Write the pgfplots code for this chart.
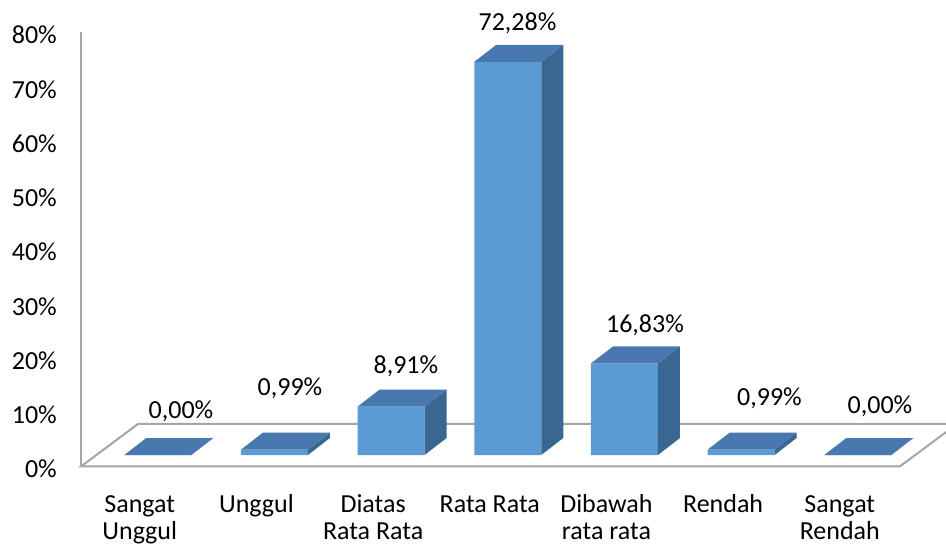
\documentclass[border=0pt]{standalone}
\usepackage{pgfplots}
\pgfplotsset{compat=1.18}
\usepackage{pgfplotstable}
\usepackage{fontspec}
\setmainfont{Carlito}
\definecolor{frontc}{HTML}{5B9BD5}
\definecolor{topc}{HTML}{4878AE}
\definecolor{sidec}{HTML}{3A6792}
\definecolor{linec}{HTML}{A5A5A5}
\newcommand{\lblfont}{\fontsize{26bp}{26.5bp}\selectfont}

% x: category index, v: value (%), lx/ly: label position (bar axis units)
\pgfplotstableread{
x v lx ly
0 0.00 0.199 6.80
1 0.99 1.133 10.85
2 8.91 2.127 15.07
3 72.28 3.083 78.10
4 16.83 4.176 22.52
5 0.99 5.243 9.10
6 0.00 6.190 7.72
}\data

\begin{document}
\begin{tikzpicture}
% value axis (front-left wall line and percentage ticks)
\begin{axis}[
  at={(81bp,80bp)}, anchor=south west, scale only axis,
  width=865bp, height=434bp,
  xmin=0, xmax=1, ymin=0, ymax=80,
  axis x line=none, axis y line*=left,
  y axis line style={draw=linec, line width=2bp, -},
  ytick={0,10,...,80},
  yticklabels={0\%,10\%,20\%,30\%,40\%,50\%,60\%,70\%,80\%},
  ytick style={draw=none},
  yticklabel style={font=\lblfont, anchor=east, inner sep=0pt, xshift=-24bp, yshift=-3bp},
]
\addplot[draw=none] coordinates {(0,0) (1,80)};
\end{axis}
% bars (pseudo 3-D)
\begin{axis}[
  at={(81bp,80bp)}, anchor=south west, scale only axis,
  width=865bp, height=434bp,
  xmin=-0.658, xmax=6.756, ymin=-2.022, ymax=77.76,
  clip=false,
  axis line style={draw=none},
  ytick=\empty,
  xtick={0,...,6},
  xticklabels={{Sangat\\Unggul},{Unggul\\{}},{Diatas\\Rata Rata},{Rata Rata\\{}},{Dibawah\\rata rata},{Rendah\\{}},{Sangat\\Rendah}},
  xtick style={draw=none},
  xticklabel style={align=center, font=\lblfont, anchor=base, inner sep=0pt, yshift=-73bp, xshift=-18bp},
]
% floor
\addplot[draw=linec, line width=2bp] coordinates {(6.85,5.70) (-0.170,5.70) (-0.658,-2.11) (6.36,-2.11) (6.85,5.70)};
% front faces
\addplot[ybar, bar width=0.574, fill=frontc, draw=none] table[x=x,y=v]{\data};
% side and top faces
\pgfplotsinvokeforeach{0,...,6}{
  \pgfplotstablegetelem{#1}{v}\of\data
  \pgfmathsetmacro{\va}{\pgfplotsretval}
  \pgfmathsetmacro{\vb}{\va+3.125}
  \pgfmathsetmacro{\xl}{#1-0.287}
  \pgfmathsetmacro{\xr}{#1+0.287}
  \pgfmathsetmacro{\xlb}{#1-0.287+0.1886}
  \pgfmathsetmacro{\xrb}{#1+0.287+0.1886}
  \addplot[fill=sidec, draw=none] coordinates {(\xr,0) (\xrb,3.125) (\xrb,\vb) (\xr,\va)} -- cycle;
  \addplot[fill=topc, draw=none] coordinates {(\xl,\va) (\xr,\va) (\xrb,\vb) (\xlb,\vb)} -- cycle;
}
% data labels
\addplot[draw=none, mark=none, point meta=\thisrow{v},
  nodes near coords={\pgfmathprintnumber[fixed,fixed zerofill,precision=2,use comma,assume math mode=true]{\pgfplotspointmeta}\%},
  every node near coord/.append style={anchor=base, inner sep=0pt, font=\lblfont, text=black},
] table[x=lx,y=ly]{\data};
\end{axis}
\pgfresetboundingbox
\path[use as bounding box] (0,0) rectangle (946bp,546bp);
\end{tikzpicture}
\end{document}
